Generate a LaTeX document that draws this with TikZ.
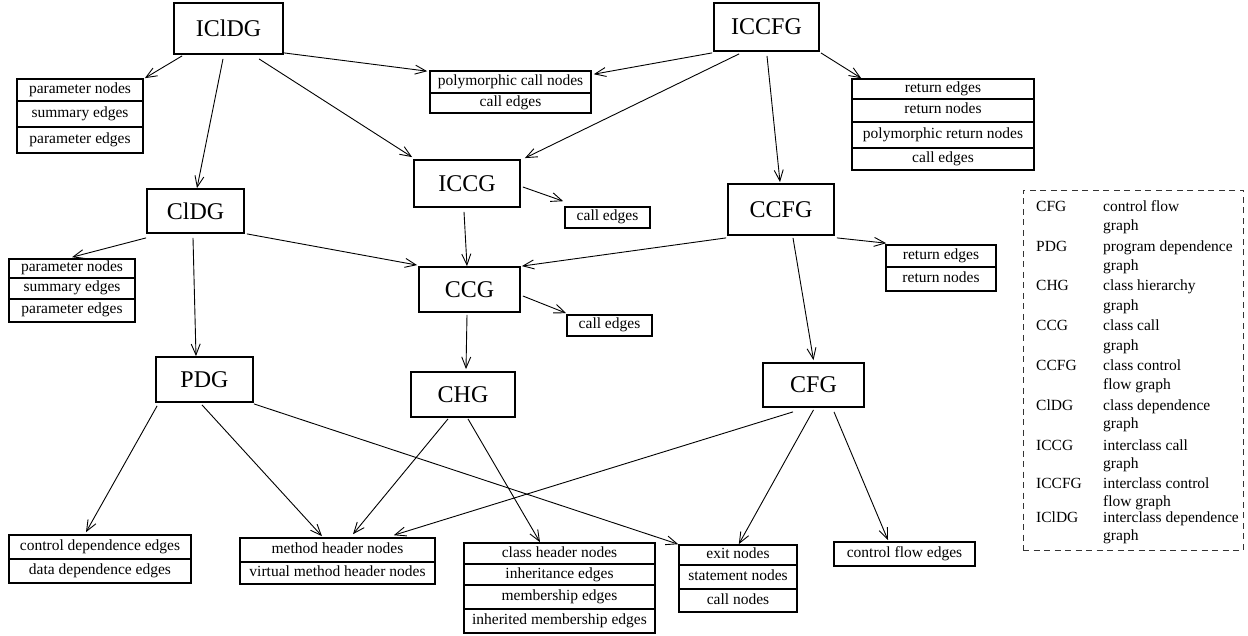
\documentclass[tikz,border=0pt]{standalone}
\usepackage{fontspec}
\setmainfont{Liberation Serif}
\usetikzlibrary{arrows.meta}
\newcommand{\bigfnt}{\fontsize{24}{28}\selectfont}
\newcommand{\smallfnt}{\fontsize{15.5}{18}\selectfont}
\begin{document}
\begin{tikzpicture}[x=1pt,y=-1pt,
  graphbox/.style={draw, line width=1.8pt, inner sep=0pt, font=\bigfnt},
  attrrow/.style={draw, line width=1.6pt, inner sep=0pt, font=\smallfnt,
    text height=10.5pt, text depth=3.5pt},
  dep/.style={-{Straight Barb[length=11pt,width=9pt]}, line width=0.9pt},
  legendbox/.style={draw=black!80, dash pattern=on 6pt off 4.5pt, line width=0.8pt,
    minimum width=220pt, minimum height=360pt, inner sep=0pt},
  legtext/.style={anchor=west, inner sep=0pt, font=\smallfnt,
    text height=10.5pt, text depth=3.5pt}]
\useasboundingbox (0,0) rectangle (1248,636);

% graphs
\node[graphbox, minimum width=109pt, minimum height=51pt] (icldg) at (228.5,28.5) {IClDG};
\node[graphbox, minimum width=105pt, minimum height=48pt] (iccfg) at (766.5,27) {ICCFG};
\node[graphbox, minimum width=97pt,  minimum height=44pt] (cldg)  at (195.5,211) {ClDG};
\node[graphbox, minimum width=106pt, minimum height=47pt] (iccg)  at (467,183.5) {ICCG};
\node[graphbox, minimum width=106pt, minimum height=51pt] (ccfg)  at (781,209.5) {CCFG};
\node[graphbox, minimum width=101pt, minimum height=45pt] (ccg)   at (469.5,289.5) {CCG};
\node[graphbox, minimum width=97pt,  minimum height=45pt] (pdg)   at (204.5,379.5) {PDG};
\node[graphbox, minimum width=104pt, minimum height=45pt] (chg)   at (463,394.5) {CHG};
\node[graphbox, minimum width=101pt, minimum height=44pt] (cfg)   at (813.5,385) {CFG};

% IClDG parameters
\node[attrrow, minimum width=126pt, minimum height=22pt] (a1) at (80,90) {parameter nodes};
\node[attrrow, minimum width=126pt, minimum height=26pt] (a2) at (80,114) {summary edges};
\node[attrrow, minimum width=126pt, minimum height=26pt] (a3) at (80,140) {parameter edges};
% polymorphic calls
\node[attrrow, minimum width=161pt, minimum height=22pt] (b1) at (510.5,82) {polymorphic call nodes};
\node[attrrow, minimum width=161pt, minimum height=20pt] (b2) at (510.5,103) {call edges};
% ICCFG returns
\node[attrrow, minimum width=182pt, minimum height=20pt] (c1) at (943,89) {return edges};
\node[attrrow, minimum width=182pt, minimum height=23pt] (c2) at (943,110.5) {return nodes};
\node[attrrow, minimum width=182pt, minimum height=26pt] (c3) at (943,135) {polymorphic return nodes};
\node[attrrow, minimum width=182pt, minimum height=22pt] (c4) at (943,159) {call edges};
% ICCG calls
\node[attrrow, minimum width=85pt, minimum height=21pt] (d1) at (607.5,217.5) {call edges};
% ClDG parameters
\node[attrrow, minimum width=126pt, minimum height=19pt] (e1) at (72,268.5) {parameter nodes};
\node[attrrow, minimum width=126pt, minimum height=21pt] (e2) at (72,288.5) {summary edges};
\node[attrrow, minimum width=126pt, minimum height=23pt] (e3) at (72,310.5) {parameter edges};
% CCG calls
\node[attrrow, minimum width=85pt, minimum height=21pt] (f1) at (609.5,325.5) {call edges};
% CCFG returns
\node[attrrow, minimum width=110pt, minimum height=22pt] (g1) at (941,256) {return edges};
\node[attrrow, minimum width=110pt, minimum height=24pt] (g2) at (941,279) {return nodes};
% PDG dependences
\node[attrrow, minimum width=182pt, minimum height=24pt] (h1) at (100,547) {control dependence edges};
\node[attrrow, minimum width=182pt, minimum height=24pt] (h2) at (100,571) {data dependence edges};
% method headers
\node[attrrow, minimum width=195pt, minimum height=24pt] (i1) at (337.5,550) {method header nodes};
\node[attrrow, minimum width=195pt, minimum height=22pt] (i2) at (337.5,573) {virtual method header nodes};
% class hierarchy
\node[attrrow, minimum width=191pt, minimum height=21pt] (j1) at (559.5,553.5) {class header nodes};
\node[attrrow, minimum width=191pt, minimum height=21pt] (j2) at (559.5,574.5) {inheritance edges};
\node[attrrow, minimum width=191pt, minimum height=24pt] (j3) at (559.5,597) {membership edges};
\node[attrrow, minimum width=191pt, minimum height=24pt] (j4) at (559.5,621) {inherited membership edges};
% statements
\node[attrrow, minimum width=118pt, minimum height=20pt] (k1) at (738,555) {exit nodes};
\node[attrrow, minimum width=118pt, minimum height=24pt] (k2) at (738,577) {statement nodes};
\node[attrrow, minimum width=118pt, minimum height=23pt] (k3) at (738,600.5) {call nodes};
% control flow
\node[attrrow, minimum width=141pt, minimum height=24pt] (l1) at (904.5,554) {control flow edges};

% dependences between graphs and their parts
\draw[dep] ([shift={(9,1)}]icldg.south west) -- ([shift={(1,0)}]a1.north east);
\draw[dep] ([shift={(0,-2)}]icldg.south east) -- ([shift={(-2,1)}]b1.north west);
\draw[dep] ([shift={(-5.5,4)}]icldg.south) -- ([shift={(1.5,0)}]cldg.north);
\draw[dep] ([shift={(30.5,4)}]icldg.south) -- ([shift={(-1,-2)}]iccg.north west);
\draw[dep] ([shift={(-1,1)}]iccfg.south west) -- ([shift={(2,4)}]b1.north east);
\draw[dep] ([shift={(26,2)}]iccfg.south west) -- ([shift={(4,-1)}]iccg.north east);
\draw[dep] ([shift={(0.5,4)}]iccfg.south) -- ([shift={(-1,-1)}]ccfg.north);
\draw[dep] ([shift={(1,1)}]iccfg.south east) -- ([shift={(10,0)}]c1.north west);
\draw[dep] ([shift={(2,3.5)}]iccg.east) -- ([shift={(-1,-5)}]d1.north west);
\draw[dep] ([shift={(-3,4)}]iccg.south) -- ([shift={(-2.5,0)}]ccg.north);
\draw[dep] ([shift={(0,4)}]cldg.south west) -- ([shift={(0,-1)}]e1.north);
\draw[dep] ([shift={(2,0)}]cldg.south east) -- ([shift={(-1,-1)}]ccg.north west);
\draw[dep] ([shift={(-2.5,4)}]cldg.south) -- ([shift={(-8.5,0)}]pdg.north);
\draw[dep] ([shift={(-1,2)}]ccfg.south west) -- ([shift={(1,0)}]ccg.north east);
\draw[dep] ([shift={(2,2)}]ccfg.south east) -- ([shift={(1,-1)}]g1.north west);
\draw[dep] ([shift={(12,2)}]ccfg.south) -- ([shift={(0,-2)}]cfg.north);
\draw[dep] ([shift={(2,6.5)}]ccg.east) -- ([shift={(0,-1)}]f1.north west);
\draw[dep] ([shift={(-2.5,2)}]ccg.south) -- ([shift={(3,-2)}]chg.north);
\draw[dep] ([shift={(2,3)}]pdg.south west) -- ([shift={(-14,-2)}]h1.north);
\draw[dep] ([shift={(-2.5,2)}]pdg.south) -- ([shift={(-15.5,-1)}]i1.north);
\draw[dep] ([shift={(0,1)}]pdg.south east) -- (k1.north west);
\draw[dep] ([shift={(-15,1)}]chg.south) -- ([shift={(15.5,-3)}]i1.north);
\draw[dep] ([shift={(5,1)}]chg.south) -- ([shift={(-19.5,0)}]j1.north);
\draw[dep] ([shift={(-20.5,4)}]cfg.south) -- ([shift={(-42,-2)}]i1.north east);
\draw[dep] ([shift={(0,2)}]cfg.south) -- ([shift={(-59,0)}]k1.north east);
\draw[dep] ([shift={(20.5,4)}]cfg.south) -- ([shift={(-16.5,-1)}]l1.north);

% legend
\node[legendbox] (legend) at (1133,370) {};
\foreach \ya/\yb/\ab/\da/\db in {
  208/227/CFG/control flow/graph,
  248/267/PDG/program dependence/graph,
  287/307/CHG/class hierarchy/graph,
  327/347/CCG/class call/graph,
  367/386/CCFG/class control/flow graph,
  407/425/ClDG/class dependence/graph,
  447/465/ICCG/interclass call/graph,
  485/503/ICCFG/interclass control/flow graph,
  519/537/IClDG/interclass dependence/graph} {
  \node[legtext] (ab-\ab) at (1036,\ya) {\ab};
  \node[legtext] (da-\ab) at (1103,\ya) {\da};
  \node[legtext] (db-\ab) at (1103,\yb) {\db};
}
\end{tikzpicture}
\end{document}
